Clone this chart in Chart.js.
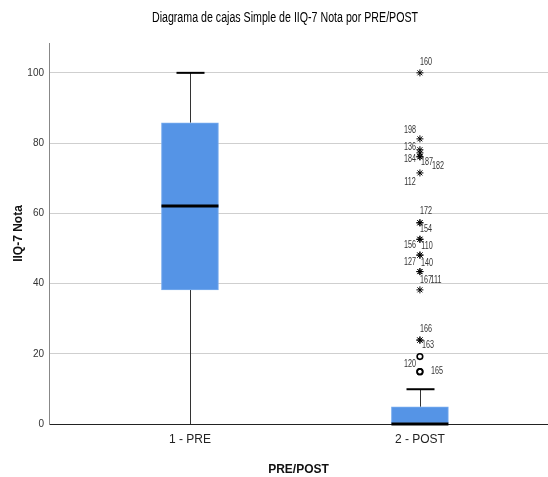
<!DOCTYPE html>
<html>
<head>
<meta charset="utf-8">
<script src="https://cdn.jsdelivr.net/npm/chart.js@4.4.1/dist/chart.umd.min.js"></script>
<style>
  body { margin: 0; background: #fff; }
  canvas { display: block; }
</style>
</head>
<body>
<canvas id="box-chart" width="548" height="477"></canvas>
<script>
// box plot summaries
var groups = ["1 - PRE", "2 - POST"];
var mins = [0, 0];
var q1s = [38.2, 0];
var medians = [62.1, 0];
var q3s = [85.8, 4.9];
var maxs = [100, 9.9];

// outliers of 2 - POST (case ids as printed)
var outlierValues = [100, 81.2, 78.1, 77.2, 76.1, 76.1, 71.5, 57.3, 57.3, 52.6, 52.6, 48.1, 48.1, 43.4, 43.4, 38.2, 23.9, 23.9, 19.2, 14.9, 14.9];
var outlierIds = ["160", "198", "136", "184", "187", "182", "112", "172", "154", "156", "110", "127", "140", "167", "111", "", "166", "163", "", "120", "165"];
var outlierGroup = 2;

var yTicks = [0, 20, 40, 60, 80, 100];

var chartTitle = 'Diagrama de cajas Simple de IIQ-7 Nota por PRE/POST';

var sans = "'Liberation Sans', Arial, sans-serif";

// extreme (> 3 IQR) -> star, otherwise circle
function kindOf(v) {
  var g = outlierGroup - 1;
  var iqr = q3s[g] - q1s[g];
  return (v > q3s[g] + 3 * iqr || v < q1s[g] - 3 * iqr) ? 'star' : 'circle';
}

// where each case label sits around its point
var labelPlace = {
  "160": [6, -11], "198": [-10, -9], "136": [-10, -3], "184": [-10, 6],
  "187": [7, 5], "182": [18, 9], "112": [-10, 9], "172": [6, -12],
  "154": [6, 6], "156": [-10, 6], "110": [7, 7], "127": [-10, 7],
  "140": [7, 8], "167": [6, 9], "111": [16, 9], "166": [6, -11],
  "163": [8, 5], "120": [-10, -7], "165": [17, 0]
};

// no narrow font installed, so squeeze the text a bit
function narrowText(ctx, text, x, y, sx) {
  ctx.save();
  ctx.translate(x, y);
  ctx.scale(sx, 1);
  ctx.fillText(text, 0, 0);
  ctx.restore();
}

var boxParts = {
  id: 'boxParts',
  beforeDatasetsDraw: function (chart) {
    var ctx = chart.ctx, x = chart.scales.x, y = chart.scales.y;
    ctx.save();
    for (var i = 0; i < groups.length; i++) {
      var cx = Math.round(x.getPixelForValue(i + 1)) + 0.5;
      ctx.strokeStyle = '#333';
      ctx.lineWidth = 1;
      ctx.beginPath();
      ctx.moveTo(cx, y.getPixelForValue(maxs[i]));
      ctx.lineTo(cx, y.getPixelForValue(q3s[i]));
      ctx.moveTo(cx, y.getPixelForValue(q1s[i]));
      ctx.lineTo(cx, y.getPixelForValue(mins[i]));
      ctx.stroke();
      ctx.strokeStyle = '#000';
      ctx.lineWidth = 2;
      ctx.beginPath();
      ctx.moveTo(cx - 14, y.getPixelForValue(maxs[i]));
      ctx.lineTo(cx + 14, y.getPixelForValue(maxs[i]));
      if (mins[i] > y.min) {
        ctx.moveTo(cx - 14, y.getPixelForValue(mins[i]));
        ctx.lineTo(cx + 14, y.getPixelForValue(mins[i]));
      }
      ctx.stroke();
    }
    ctx.restore();
  },
  afterDatasetsDraw: function (chart) {
    var ctx = chart.ctx, x = chart.scales.x, y = chart.scales.y;
    ctx.save();
    ctx.strokeStyle = '#000';
    ctx.lineWidth = 3;
    for (var i = 0; i < groups.length; i++) {
      var cx = x.getPixelForValue(i + 1);
      var my = y.getPixelForValue(medians[i]);
      ctx.beginPath();
      ctx.moveTo(cx - 28.5, my);
      ctx.lineTo(cx + 28.5, my);
      ctx.stroke();
    }
    ctx.fillStyle = '#333';
    ctx.font = '10px ' + sans;
    ctx.textAlign = 'center';
    ctx.textBaseline = 'middle';
    var px = x.getPixelForValue(outlierGroup);
    for (var k = 0; k < outlierValues.length; k++) {
      var id = outlierIds[k];
      if (!id) continue;
      var off = labelPlace[id] || [8, 0];
      narrowText(ctx, id, px + off[0], y.getPixelForValue(outlierValues[k]) + off[1], 0.72);
    }
    // title
    ctx.fillStyle = '#000';
    ctx.font = '14px ' + sans;
    narrowText(ctx, chartTitle, chart.width / 2 + 11, 18, 0.76);
    ctx.restore();
  }
};

new Chart(document.getElementById("box-chart"), {
  type: 'bar',
  data: {
    datasets: [
      {
        label: "IIQ-7 Nota",
        data: groups.map(function (g, i) { return { x: i + 1, y: [q1s[i], q3s[i]] }; }),
        backgroundColor: '#5594e6',
        borderColor: '#78acee',
        borderWidth: 1,
        borderSkipped: false,
        barThickness: 57
      },
      {
        type: 'scatter',
        label: "outliers",
        data: outlierValues.map(function (v) { return { x: outlierGroup, y: v }; }),
        pointStyle: function (c) { return c.raw ? kindOf(c.raw.y) : 'circle'; },
        radius: function (c) { return c.raw && kindOf(c.raw.y) === 'star' ? 3.5 : 2.8; },
        borderColor: '#000',
        backgroundColor: 'rgba(0,0,0,0)',
        borderWidth: function (c) { return c.raw && kindOf(c.raw.y) === 'star' ? 1 : 1.6; }
      }
    ]
  },
  options: {
    responsive: false,
    animation: false,
    layout: { autoPadding: false, padding: { top: 43, right: 0, left: 0, bottom: 0 } },
    plugins: {
      legend: { display: false },
      tooltip: { enabled: false },
      title: { display: false }
    },
    scales: {
      x: {
        type: 'linear',
        offset: false,
        min: 0.387,
        max: 2.557,
        afterBuildTicks: function (s) { s.ticks = groups.map(function (g, i) { return { value: i + 1 }; }); },
        afterFit: function (s) { s.height = 53; s.paddingLeft = 0; s.paddingRight = 0; },
        grid: { display: false, drawTicks: false },
        border: { display: true, color: '#222', width: 1 },
        ticks: {
          color: '#222',
          padding: 8,
          font: { family: sans, size: 12 },
          callback: function (v) { return groups[v - 1]; }
        },
        title: {
          display: true,
          text: 'PRE/POST',
          color: '#111',
          font: { family: sans, size: 12, weight: 'bold' },
          padding: { top: 0, bottom: 0 }
        }
      },
      y: {
        min: 0,
        max: 108.5,
        afterBuildTicks: function (s) { s.ticks = yTicks.map(function (v) { return { value: v }; }); },
        afterFit: function (s) { s.width = 49; },
        grid: {
          drawTicks: false,
          color: function (c) { return c.tick && c.tick.value === 0 ? 'rgba(0,0,0,0)' : '#cfcfcf'; },
          lineWidth: 1
        },
        border: { display: true, color: '#888', width: 1 },
        ticks: {
          color: '#333',
          padding: 5,
          font: { family: sans, size: 10 }
        },
        title: {
          display: true,
          text: 'IIQ-7 Nota',
          color: '#111',
          font: { family: sans, size: 12, weight: 'bold' },
          padding: { top: 11, bottom: 0 }
        }
      }
    }
  },
  plugins: [boxParts]
});
</script>
</body>
</html>
